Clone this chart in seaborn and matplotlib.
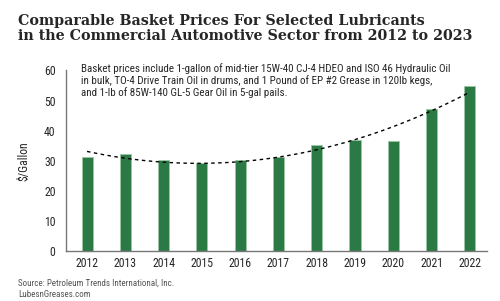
import numpy as np
import pandas as pd
import matplotlib
matplotlib.use("Agg")
import matplotlib.pyplot as plt
import seaborn as sns
from matplotlib import font_manager

years = ["2012", "2013", "2014", "2015", "2016", "2017", "2018", "2019", "2020", "2021", "2022"]
prices = [31.2, 32.4, 30.2, 29.1, 30.2, 31.2, 35.1, 37.0, 36.6, 47.2, 54.7]
yticks = [0, 10, 20, 30, 40, 50, 60]

title = ("Comparable Basket Prices For Selected Lubricants\n"
         "in the Commercial Automotive Sector from 2012 to 2023")
note = ("Basket prices include 1-gallon of mid-tier 15W-40 CJ-4 HDEO and ISO 46 Hydraulic Oil\n"
        "in bulk, TO-4 Drive Train Oil in drums, and 1 Pound of EP #2 Grease in 120lb kegs,\n"
        "and 1-lb of 85W-140 GL-5 Gear Oil in 5-gal pails.")
source = "Source: Petroleum Trends International, Inc.\nLubesnGreases.com"

sns.set_theme(style="white")
names = {f.name for f in font_manager.fontManager.ttflist}
cands = ["Roboto Condensed", "Liberation Sans Narrow", "Open Sans Condensed",
         "Noto Sans Condensed", "DejaVu Sans Condensed", "Noto Sans Display Condensed"]
narrow = next((c for c in cands if c in names), None)
if narrow is None:
    narrow = "Liberation Sans"
    scale = 0.84
else:
    scale = 1.0
plt.rcParams["font.family"] = [narrow, "DejaVu Sans"]

df = pd.DataFrame({"year": years, "price": prices})
df["pos"] = np.arange(len(years))

fig = plt.figure(figsize=(5.0, 3.01), dpi=100)
ax = fig.add_axes([0.132, 0.166, 0.842, 0.60])

sns.barplot(data=df, x="year", y="price", color="#2b7a45", width=0.29,
            edgecolor="#9cc7a6", linewidth=0.6, saturation=1, ax=ax)
sns.regplot(data=df, x="pos", y="price", order=2, ci=None, scatter=False,
            truncate=True, ax=ax,
            line_kws=dict(color="black", lw=1.0, ls=(0, (2.5, 2.5))))

fs = 8.5 * scale
ax.set_ylim(0, 60)
ax.set_xlim(-0.55, len(years) - 0.55)
ax.set_yticks(yticks)
ax.set_yticklabels([str(t) for t in yticks], fontsize=fs)
ax.set_xticks(df["pos"])
ax.set_xticklabels(years, fontsize=fs)
ax.set_xlabel("")
ax.set_ylabel("$/Gallon", fontsize=fs, labelpad=10)
ax.tick_params(axis="y", direction="out", length=4.5, width=0.8, color="#777777", pad=3)
ax.tick_params(axis="x", length=0, pad=4)
for s in ["top", "right"]:
    ax.spines[s].set_visible(False)
for s in ["left", "bottom"]:
    ax.spines[s].set_color("#777777")
    ax.spines[s].set_linewidth(1.0)

fig.text(0.036, 0.955, title, fontsize=10.3, fontweight="bold",
         family=["DejaVu Serif"], va="top", ha="left", linespacing=1.15)
fig.text(0.162, 0.79, note, fontsize=8.5 * scale * 0.93, va="top", ha="left", linespacing=1.12)
fig.text(0.036, 0.075, source, fontsize=6.5 * scale, color="#555555", va="top", ha="left",
         linespacing=1.4)

fig.savefig("out.png", dpi=100)
